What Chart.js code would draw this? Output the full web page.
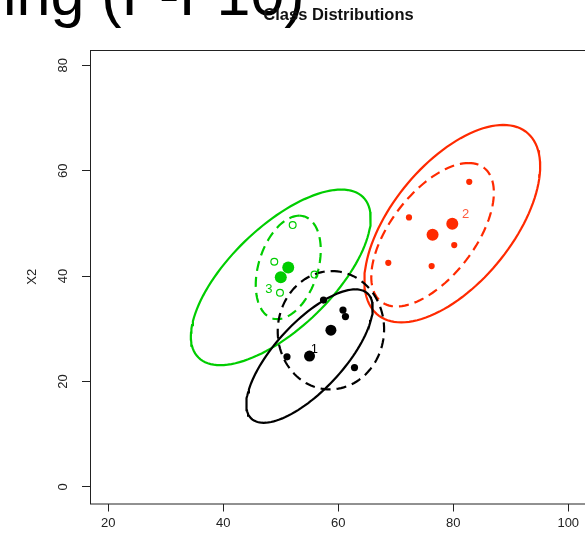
<!DOCTYPE html>
<html><head><meta charset="utf-8">
<script src="https://cdn.jsdelivr.net/npm/chart.js@4.4.1/dist/chart.umd.min.js"></script>
<style>
html,body{margin:0;padding:0;background:#fff;overflow:hidden;width:585px;height:539px;}
#wrap{position:relative;width:600px;height:539px;}
canvas{display:block;}
</style></head><body>
<div id="wrap"><canvas id="c" width="600" height="539"></canvas></div>
<script>
// ---- text ----
const slideText = "ing (F-F10)";
const chartTitle = "Class Distributions";
const yAxisTitle = "X2";
const xTicks = [20, 40, 60, 80, 100];
const yTicks = [0, 20, 40, 60, 80];
const classNames = ["1", "2", "3"];
const classColors = ["#000000", "#ff2a00", "#00cd00"];
const labelColors = ["#000000", "#ff5a3c", "#00cd00"];

// ---- class 1 (black) ----
const c1PointsX = [57.43, 51.08, 62.82, 60.82, 61.25];
const c1PointsY = [35.45, 24.69, 22.64, 33.55, 32.31];
const c1MeansX = [55.0, 58.72];
const c1MeansY = [24.82, 29.73];
// ---- class 2 (red) ----
const c2PointsX = [82.78, 72.30, 80.17, 68.70, 76.24];
const c2PointsY = [57.89, 51.14, 45.88, 42.52, 41.90];
const c2MeansX = [79.83, 76.40];
const c2MeansY = [49.95, 47.85];
// ---- class 3 (green) ----
const c3PointsX = [52.07, 48.87, 49.86, 55.86];
const c3PointsY = [49.68, 42.71, 36.83, 40.28];
const c3MeansX = [50.0, 51.30];
const c3MeansY = [39.76, 41.65];

// ---- class labels ----
const labelX = [55.86, 82.16, 47.95];
const labelY = [26.15, 51.76, 37.53];

// ---- ellipses: centre + two conjugate semi-diameters (data units) ----
const ellClass  = [0, 0, 1, 1, 2, 2];
const ellDashed = [false, true, false, true, false, true];
const ellCx = [55.0, 58.72, 79.83, 76.40, 50.0, 51.30];
const ellCy = [24.82, 29.73, 49.95, 47.85, 39.76, 41.65];
const ellUx = [7.97, 0.17, 8.87, 6.26, 10.52, 1.91];
const ellUy = [12.66, 11.23, 18.73, 13.61, 16.66, 9.81];
const ellWx = [7.57, 9.25, 12.45, 8.63, 11.57, 5.32];
const ellWy = [0, 0, 0, 0, 0, 0];

const zip = (xs, ys) => xs.map((x, i) => ({x, y: ys[i]}));

function outline(i) {
  const pts = [];
  const n = 120;
  for (let k = 0; k <= n; k++) {
    const t = 2 * Math.PI * k / n;
    pts.push({x: ellCx[i] + Math.cos(t) * ellUx[i] + Math.sin(t) * ellWx[i],
              y: ellCy[i] + Math.cos(t) * ellUy[i] + Math.sin(t) * ellWy[i]});
  }
  return pts;
}

const datasets = [
  {data: zip(c1MeansX, c1MeansY), backgroundColor: classColors[0], borderColor: classColors[0], pointRadius: 5.5, borderWidth: 0},
  {data: zip(c2MeansX, c2MeansY), backgroundColor: classColors[1], borderColor: classColors[1], pointRadius: 6, borderWidth: 0},
  {data: zip(c3MeansX, c3MeansY), backgroundColor: classColors[2], borderColor: classColors[2], pointRadius: 6, borderWidth: 0},
  {data: zip(c1PointsX, c1PointsY), backgroundColor: classColors[0], borderColor: classColors[0], pointRadius: 3.6, borderWidth: 0},
  {data: zip(c2PointsX, c2PointsY), backgroundColor: classColors[1], borderColor: classColors[1], pointRadius: 3.1, borderWidth: 0},
  {data: zip(c3PointsX, c3PointsY), backgroundColor: 'rgba(0,0,0,0)', borderColor: classColors[2], pointRadius: 3.4, borderWidth: 1.2},
];
for (let i = 0; i < ellCx.length; i++) {
  datasets.push({
    data: outline(i), showLine: true, pointRadius: 0, borderWidth: 2.2,
    borderColor: classColors[ellClass[i]], backgroundColor: classColors[ellClass[i]],
    borderDash: ellDashed[i] ? [10, 6] : [], tension: 0, fill: false
  });
}

const decor = {
  id: 'decor',
  afterDatasetsDraw(chart) {
    const {ctx, chartArea: a, scales: {x, y}} = chart;
    ctx.save();
    ctx.strokeStyle = '#222';
    ctx.lineWidth = 1;
    ctx.strokeRect(a.left + 0.5, a.top + 0.5, a.right - a.left, a.bottom - a.top);
    ctx.font = '13px "Liberation Sans", Arial, sans-serif';
    ctx.textAlign = 'center';
    ctx.textBaseline = 'middle';
    for (let i = 0; i < classNames.length; i++) {
      ctx.fillStyle = labelColors[i];
      ctx.fillText(classNames[i], x.getPixelForValue(labelX[i]), y.getPixelForValue(labelY[i]));
    }
    ctx.restore();
  },
  afterDraw(chart) {
    const {ctx} = chart;
    ctx.save();
    ctx.fillStyle = '#000';
    ctx.textBaseline = 'alphabetic';
    ctx.textAlign = 'left';
    ctx.font = '61px "Liberation Sans", Arial, sans-serif';
    ctx.fillText(slideText, 3, 15);
    ctx.fillStyle = '#111';
    ctx.textAlign = 'center';
    ctx.font = 'bold 16.5px "Liberation Sans", Arial, sans-serif';
    ctx.fillText(chartTitle, 338.5, 20);
    ctx.restore();
  }
};

new Chart(document.getElementById('c'), {
  type: 'scatter',
  data: {datasets},
  plugins: [decor],
  options: {
    responsive: false,
    animation: false,
    events: [],
    layout: {padding: {top: 50, right: 13, bottom: 0, left: 0}},
    plugins: {legend: {display: false}, tooltip: {enabled: false}, title: {display: false}},
    scales: {
      x: {
        type: 'linear', min: 16.82, max: 103.26,
        afterBuildTicks: s => { s.ticks = xTicks.map(v => ({value: v})); },
        afterFit: s => { s.height = 35.5; },
        grid: {drawOnChartArea: false, drawTicks: true, tickLength: 8, color: '#222', lineWidth: 1},
        border: {display: false},
        ticks: {color: '#222', font: {family: '"Liberation Sans", Arial, sans-serif', size: 13}, padding: 4, maxRotation: 0, minRotation: 0}
      },
      y: {
        type: 'linear', min: -3.15, max: 82.9,
        afterBuildTicks: s => { s.ticks = yTicks.map(v => ({value: v})); },
        afterFit: s => { s.width = 90; },
        grid: {drawOnChartArea: false, drawTicks: true, tickLength: 8, color: '#222', lineWidth: 1},
        border: {display: false},
        title: {display: true, text: yAxisTitle, color: '#222', font: {family: '"Liberation Sans", Arial, sans-serif', size: 13}, padding: {top: 25, bottom: 0}},
        ticks: {color: '#222', font: {family: '"Liberation Sans", Arial, sans-serif', size: 13}, padding: 11, minRotation: 90, maxRotation: 90, crossAlign: 'center'}
      }
    }
  }
});
</script>
</body></html>
